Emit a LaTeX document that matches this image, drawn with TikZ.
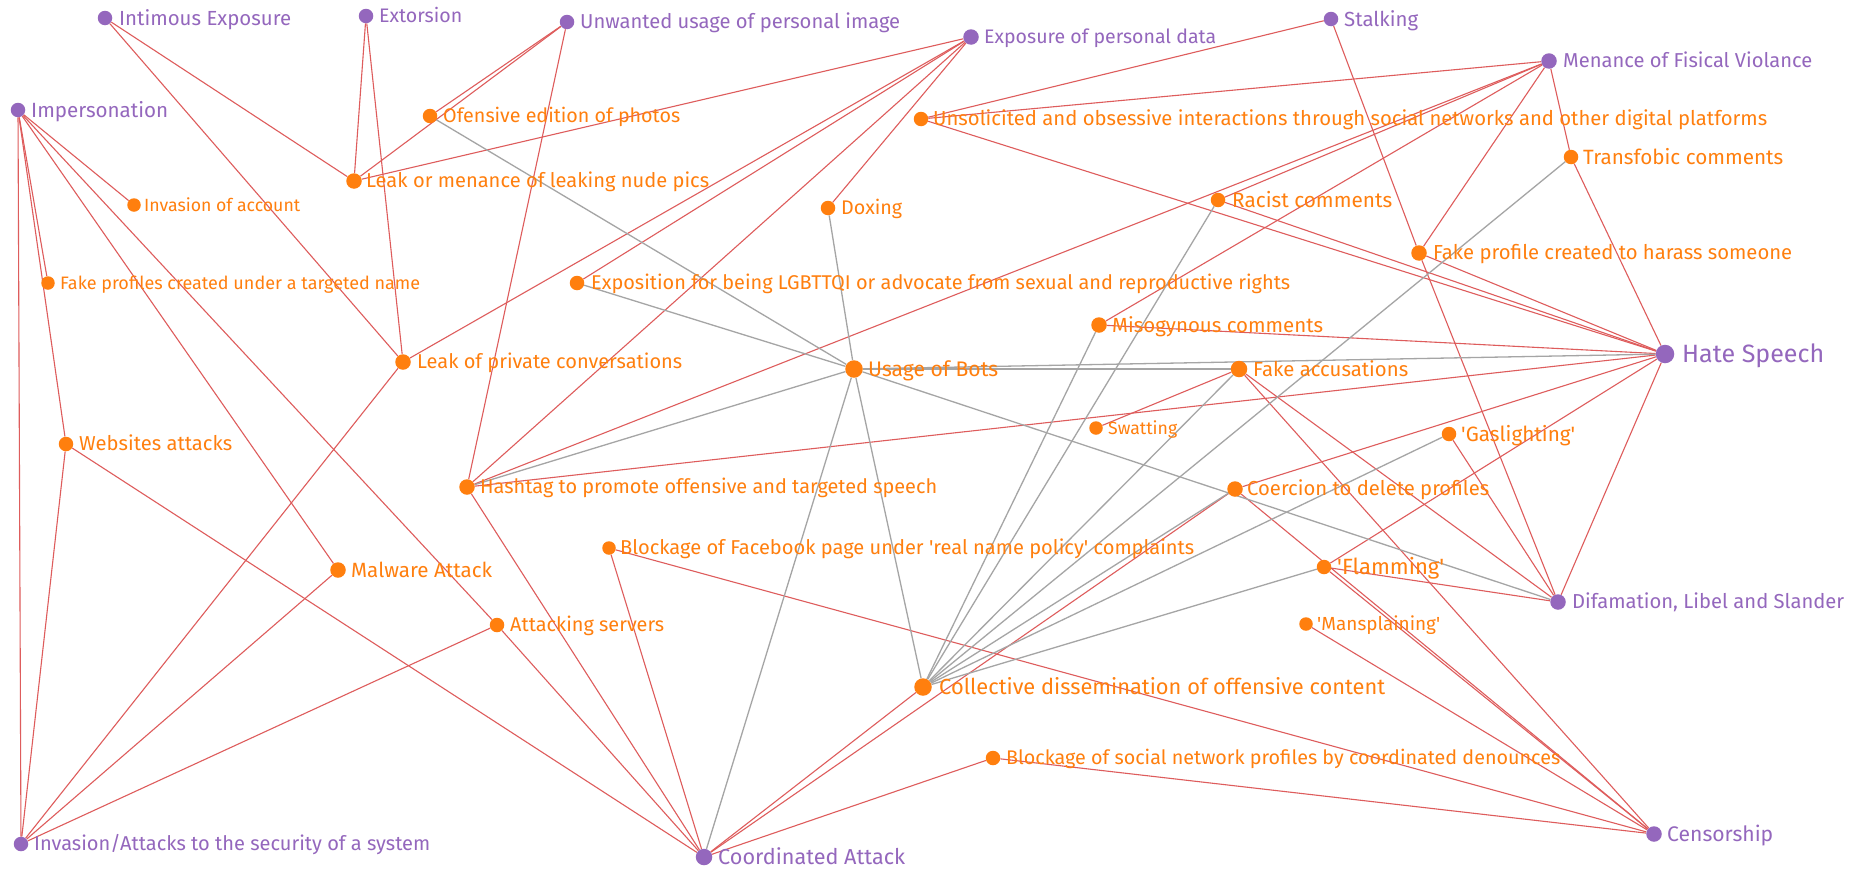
\documentclass[tikz,border=0pt]{standalone}
\usepackage{fontspec}
\setmainfont{Fira Sans}
\usepackage{graphicx}
\definecolor{pur}{HTML}{9467BD}
\definecolor{org}{HTML}{FF7F0E}
\definecolor{redge}{RGB}{222,92,92}
\definecolor{gedge}{RGB}{165,165,165}
\pgfdeclarelayer{bg}
\pgfsetlayers{bg,main}
\newcommand\lab[2]{\resizebox{#1pt}{!}{\smash{#2}\vphantom{I}}}
% style, name, x, y, dot diameter, text x, text width, text
\newcommand\nd[8]{%
  \node[#1dot,minimum size=#5pt+1.5pt] (#2) at (#3,#4) {};
  \node[#1text] (#2t) at (#6,#4) {\lab{#7}{#8}};}
\begin{document}
\begin{tikzpicture}[x=1pt,y=-1pt,
  cdot/.style={circle,fill=pur,inner sep=0pt},
  adot/.style={circle,fill=org,inner sep=0pt},
  ctext/.style={anchor=west,inner sep=0pt,text=pur},
  atext/.style={anchor=west,inner sep=0pt,text=org},
  rl/.style={draw=redge,line width=1.1pt},
  gl/.style={draw=gedge,line width=1.3pt}]
\useasboundingbox (0,0) rectangle (1868,870);
% categories
\nd{c}{IE}{105}{18}{13}{119}{172}{Intimous Exposure}
\nd{c}{EX}{366}{16}{13}{379}{83}{Extorsion}
\nd{c}{UU}{567}{22}{13}{580}{320}{Unwanted usage of personal image}
\nd{c}{IM}{18}{110}{13}{31}{137}{Impersonation}
\nd{c}{EP}{971}{37}{14}{984}{232}{Exposure of personal data}
\nd{c}{ST}{1331}{19}{13}{1344}{74}{Stalking}
\nd{c}{MV}{1549}{61}{14}{1563}{249}{Menance of Fisical Violance}
\nd{c}{HS}{1665}{354}{17}{1682}{142}{Hate Speech}
\nd{c}{DF}{1558}{602}{14}{1572}{272}{Difamation, Libel and Slander}
\nd{c}{CE}{1654}{834}{14}{1667}{106}{Censorship}
\nd{c}{CA}{704}{857}{15}{718}{187}{Coordinated Attack}
\nd{c}{IA}{21}{844}{13}{34}{396}{Invasion/Attacks to the security of a system}
% actions
\nd{a}{OE}{430}{116}{13}{443}{237}{Ofensive edition of photos}
\nd{a}{LM}{354}{181}{14}{366}{343}{Leak or menance of leaking nude pics}
\nd{a}{IAC}{134}{205}{12}{144}{156}{Invasion of account}
\nd{a}{FP}{48}{283}{12}{60}{360}{Fake profiles created under a targeted name}
\nd{a}{EL}{577}{283}{13}{591}{699}{Exposition for being LGBTTQI or advocate from sexual and reproductive rights}
\nd{a}{UN}{921}{119}{13}{933}{834}{Unsolicited and obsessive interactions through social networks and other digital platforms}
\nd{a}{DX}{828}{208}{13}{841}{61}{Doxing}
\nd{a}{RC}{1218}{200}{13}{1232}{160}{Racist comments}
\nd{a}{TC}{1571}{157}{13}{1583}{200}{Transfobic comments}
\nd{a}{FH}{1419}{253}{14}{1433}{359}{Fake profile created to harass someone}
\nd{a}{LP}{403}{362}{14}{417}{265}{Leak of private conversations}
\nd{a}{WA}{66}{444}{13}{79}{153}{Websites attacks}
\nd{a}{HT}{467}{487}{14}{480}{457}{Hashtag to promote offensive and targeted speech}
\nd{a}{MA}{338}{570}{14}{351}{141}{Malware Attack}
\nd{a}{BF}{609}{548}{12}{620}{574}{Blockage of Facebook page under \textquotesingle real name policy\textquotesingle{} complaints}
\nd{a}{UB}{854}{369}{16}{868}{130}{Usage of Bots}
\nd{a}{MC}{1099}{325}{14}{1112}{211}{Misogynous comments}
\nd{a}{SW}{1096}{428}{12}{1108}{69}{Swatting}
\nd{a}{FA}{1239}{369}{15}{1253}{155}{Fake accusations}
\nd{a}{CO}{1235}{489}{14}{1247}{242}{Coercion to delete profiles}
\nd{a}{GL}{1449}{434}{13}{1461}{114}{\textquotesingle Gaslighting\textquotesingle}
\nd{a}{FL}{1324}{567}{13}{1337}{107}{\textquotesingle Flamming\textquotesingle}
\nd{a}{AS}{497}{625}{13}{510}{154}{Attacking servers}
\nd{a}{CD}{923}{687}{16}{939}{446}{Collective dissemination of offensive content}
\nd{a}{BS}{993}{758}{13}{1006}{554}{Blockage of social network profiles by coordinated denounces}
\nd{a}{MS}{1306}{624}{12}{1317}{123}{\textquotesingle Mansplaining\textquotesingle}
\begin{pgfonlayer}{bg}
\fill[white] (0,0) rectangle (1868,870);
% red connectors
\foreach \a/\b in {IE/LM,IE/LP,EX/LM,EX/LP,UU/OE,UU/LM,UU/HT,
  IM/IAC,IM/FP,IM/WA,IM/IA,IM/MA,IM/AS,WA/IA,WA/CA,LP/IA,LP/EP,MA/IA,
  AS/IA,AS/CA,HT/CA,HT/EP,HT/MV,HT/HS,LM/EP,EL/EP,DX/EP,
  UN/ST,UN/MV,UN/HS,RC/MV,RC/HS,MC/MV,MC/HS,FH/ST,FH/MV,FH/HS,FH/DF,
  TC/MV,TC/HS,SW/FA,FA/DF,FA/CE,GL/DF,CO/HS,CO/CE,CO/CA,FL/HS,FL/DF,
  FL/CE,MS/CE,HS/DF,BF/CE,BF/CA,BS/CE,BS/CA,CD/CA}
  \draw[rl] (\a) -- (\b);
% grey connectors
\foreach \a/\b in {OE/UB,EL/UB,DX/UB,HT/UB,UB/CA,UB/CD,UB/DF,UB/FA,UB/HS,
  MC/CD,RC/CD,FA/CD,TC/CD,CO/CD,GL/CD,FL/CD}
  \draw[gl] (\a) -- (\b);
\end{pgfonlayer}
\end{tikzpicture}
\end{document}
